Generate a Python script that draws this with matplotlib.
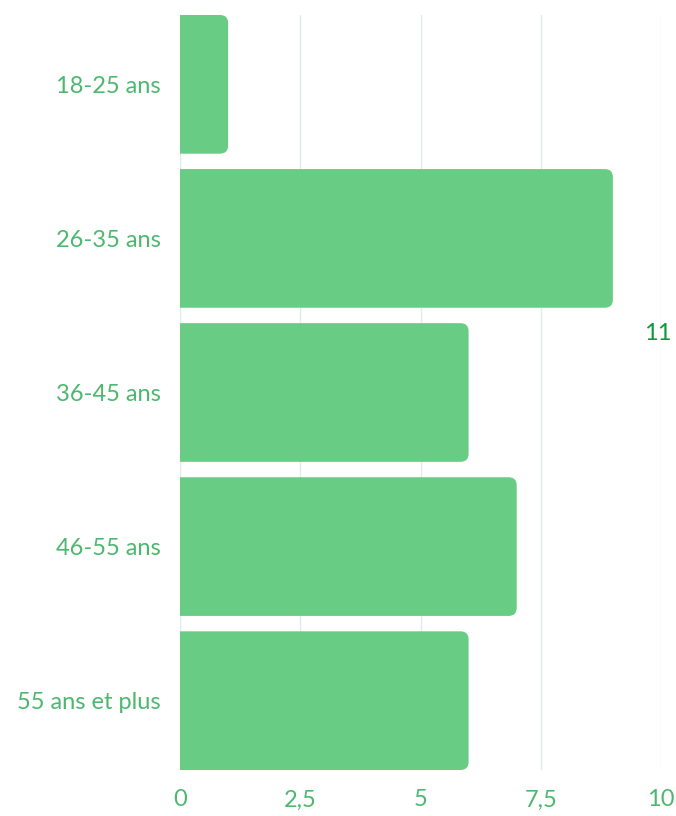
import matplotlib
matplotlib.use("Agg")
import matplotlib.pyplot as plt
from matplotlib.patches import FancyBboxPatch

plt.rcParams.update({
    "font.family": ["Lato", "DejaVu Sans"],
    "font.size": 17,
})

categories = ["18-25 ans", "26-35 ans", "36-45 ans", "46-55 ans", "55 ans et plus"]
values = [1, 9, 6, 7, 6]
xticks = [0, 2.5, 5, 7.5, 10]
xtick_labels = ["0", "2,5", "5", "7,5", "10"]
side_label = "11"

BAR = "#68cc84"
LABEL = "#4cb86e"

fig = plt.figure(figsize=(6.76, 8.16), dpi=100)
ax = fig.add_axes([180 / 676, 1 - 770 / 816, 481 / 676, 755 / 816])

h = 0.9
rx = 0.17            # corner radius in x data units
aspect = (8 / 154.1) / rx
for i, v in enumerate(values):
    # start left of zero so the axes clip the left corners square
    ax.add_patch(FancyBboxPatch((-0.5, i - h / 2), v + 0.5, h,
                                boxstyle=f"round,pad=0,rounding_size={rx}",
                                mutation_aspect=aspect, fc=BAR, ec="none", zorder=2))

ax.set_xlim(0, 10)
ax.set_ylim(4.45, -0.45)
ax.set_yticks(range(len(categories)))
ax.set_yticklabels(categories)
ax.set_xticks(xticks)
ax.set_xticklabels(xtick_labels)
ax.tick_params(length=0, colors=LABEL, labelsize=17)
ax.tick_params(axis="y", pad=14)
ax.tick_params(axis="x", pad=14)
for s in ax.spines.values():
    s.set_visible(False)
ax.grid(axis="x", color="#dfece3", linewidth=1, zorder=0)
ax.set_axisbelow(True)

fig.text(658 / 676, 1 - 333 / 816, side_label, ha="center", va="center",
         color="#0a9a3a", fontsize=17)

fig.savefig("out.png", dpi=100)
